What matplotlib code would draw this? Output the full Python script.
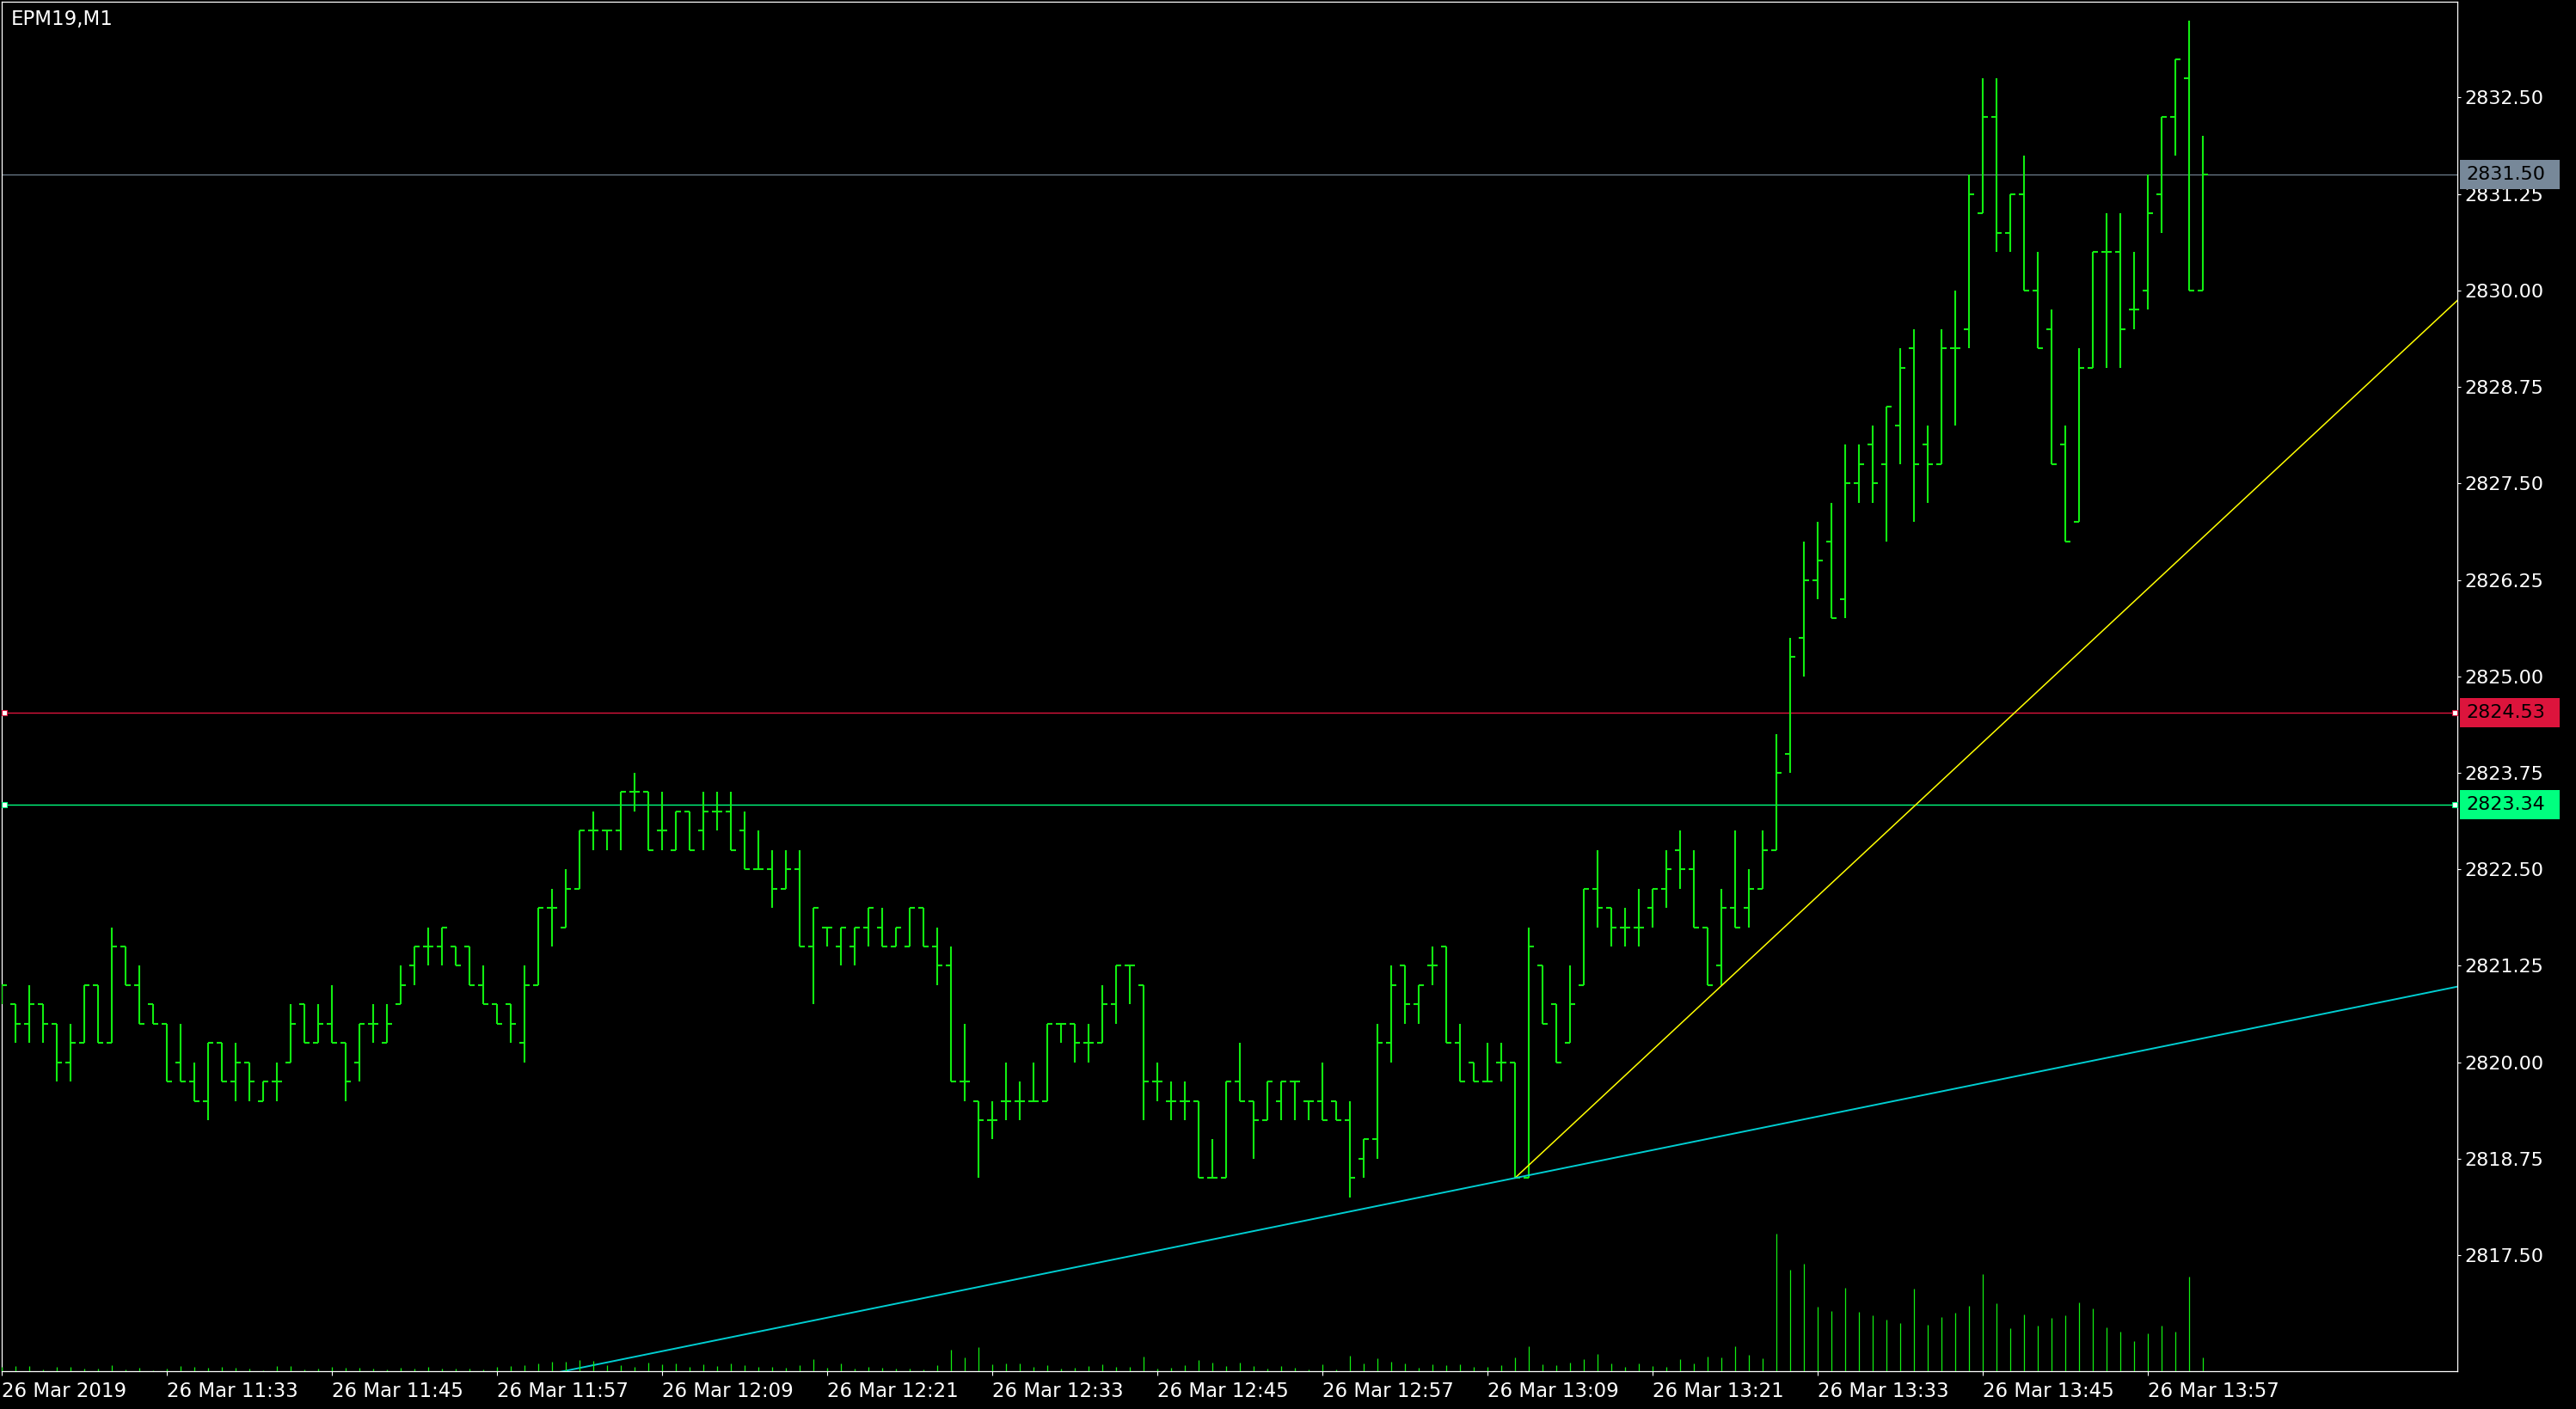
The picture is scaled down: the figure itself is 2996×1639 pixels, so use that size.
import numpy as np
import pandas as pd
import matplotlib
matplotlib.use("Agg")
import matplotlib.pyplot as plt
from matplotlib.collections import LineCollection
from matplotlib.patches import Rectangle

# ---------------- data ----------------
symbol = "EPM19,M1"
start_time = "2019-03-26 11:21"

opens = [2820.75, 2820.75, 2820.50, 2820.75, 2820.50, 2820.00, 2820.25, 2821.00, 2820.25, 2821.50,
         2821.00, 2820.75, 2820.50, 2820.00, 2819.75, 2819.50, 2820.25, 2819.75, 2820.00, 2819.50,
         2819.75, 2820.00, 2820.75, 2820.25, 2820.50, 2820.25, 2820.00, 2820.50, 2820.25, 2820.75,
         2821.25, 2821.50, 2821.50, 2821.50, 2821.50, 2821.00, 2820.75, 2820.75, 2820.25, 2821.00,
         2822.00, 2821.75, 2822.25, 2823.00, 2823.00, 2823.00, 2823.50, 2823.50, 2823.00, 2822.75,
         2823.25, 2823.00, 2823.25, 2823.25, 2823.00, 2822.50, 2822.50, 2822.25, 2822.50, 2821.50,
         2821.75, 2821.50, 2821.50, 2821.75, 2821.75, 2821.50, 2821.50, 2822.00, 2821.50, 2821.25,
         2819.75, 2819.50, 2819.25, 2819.50, 2819.50, 2819.50, 2819.50, 2820.50, 2820.50, 2820.25,
         2820.25, 2820.75, 2821.25, 2821.00, 2819.75, 2819.50, 2819.50, 2819.50, 2818.50, 2818.50,
         2819.75, 2819.50, 2819.25, 2819.50, 2819.75, 2819.50, 2819.50, 2819.50, 2819.25, 2818.75,
         2819.00, 2820.25, 2821.25, 2820.75, 2821.25, 2821.50, 2820.25, 2820.00, 2819.75, 2820.00,
         2820.00, 2818.50, 2821.25, 2820.75, 2820.25, 2821.00, 2822.25, 2822.00, 2821.75, 2821.75,
         2822.00, 2822.25, 2822.75, 2822.50, 2821.75, 2821.25, 2822.00, 2822.00, 2822.25, 2822.75,
         2824.00, 2825.50, 2826.25, 2826.75, 2826.00, 2827.50, 2828.00, 2827.75, 2828.25, 2829.25,
         2828.00, 2827.75, 2829.25, 2829.50, 2831.00, 2832.25, 2830.75, 2831.25, 2830.00, 2829.50,
         2828.00, 2827.00, 2829.00, 2830.50, 2830.50, 2829.75, 2830.00, 2831.25, 2832.25, 2832.75,
         2830.00]
highs = [2821.00, 2820.75, 2821.00, 2820.75, 2820.50, 2820.50, 2821.00, 2821.00, 2821.75, 2821.50,
         2821.25, 2820.75, 2820.50, 2820.50, 2820.00, 2820.25, 2820.25, 2820.25, 2820.00, 2819.75,
         2820.00, 2820.75, 2820.75, 2820.75, 2821.00, 2820.25, 2820.50, 2820.75, 2820.75, 2821.25,
         2821.50, 2821.75, 2821.75, 2821.50, 2821.50, 2821.25, 2820.75, 2820.75, 2821.25, 2822.00,
         2822.25, 2822.50, 2823.00, 2823.25, 2823.00, 2823.50, 2823.75, 2823.50, 2823.50, 2823.25,
         2823.25, 2823.50, 2823.50, 2823.50, 2823.25, 2823.00, 2822.75, 2822.75, 2822.75, 2822.00,
         2821.75, 2821.75, 2821.75, 2822.00, 2822.00, 2821.75, 2822.00, 2822.00, 2821.75, 2821.50,
         2820.50, 2819.50, 2819.50, 2820.00, 2819.75, 2820.00, 2820.50, 2820.50, 2820.50, 2820.50,
         2821.00, 2821.25, 2821.25, 2821.00, 2820.00, 2819.75, 2819.75, 2819.50, 2819.00, 2819.75,
         2820.25, 2819.50, 2819.75, 2819.75, 2819.75, 2819.50, 2820.00, 2819.50, 2819.50, 2819.00,
         2820.50, 2821.25, 2821.25, 2821.00, 2821.50, 2821.50, 2820.50, 2820.00, 2820.25, 2820.25,
         2820.00, 2821.75, 2821.25, 2820.75, 2821.25, 2822.25, 2822.75, 2822.00, 2822.00, 2822.25,
         2822.25, 2822.75, 2823.00, 2822.75, 2821.75, 2822.25, 2823.00, 2822.50, 2823.00, 2824.25,
         2825.50, 2826.75, 2827.00, 2827.25, 2828.00, 2828.00, 2828.25, 2828.50, 2829.25, 2829.50,
         2828.25, 2829.50, 2830.00, 2831.50, 2832.75, 2832.75, 2831.25, 2831.75, 2830.50, 2829.75,
         2828.25, 2829.25, 2830.50, 2831.00, 2831.00, 2830.50, 2831.50, 2832.25, 2833.00, 2833.50,
         2832.00]
lows = [2820.75, 2820.25, 2820.25, 2820.25, 2819.75, 2819.75, 2820.25, 2820.25, 2820.25, 2821.00,
        2820.50, 2820.50, 2819.75, 2819.75, 2819.50, 2819.25, 2819.75, 2819.50, 2819.50, 2819.50,
        2819.50, 2820.00, 2820.25, 2820.25, 2820.25, 2819.50, 2819.75, 2820.25, 2820.25, 2820.75,
        2821.00, 2821.25, 2821.25, 2821.25, 2821.00, 2820.75, 2820.50, 2820.25, 2820.00, 2821.00,
        2821.50, 2821.75, 2822.25, 2822.75, 2822.75, 2822.75, 2823.25, 2822.75, 2822.75, 2822.75,
        2822.75, 2822.75, 2823.00, 2822.75, 2822.50, 2822.50, 2822.00, 2822.25, 2821.50, 2820.75,
        2821.50, 2821.25, 2821.25, 2821.50, 2821.50, 2821.50, 2821.50, 2821.50, 2821.00, 2819.75,
        2819.50, 2818.50, 2819.00, 2819.25, 2819.25, 2819.50, 2819.50, 2820.25, 2820.00, 2820.00,
        2820.25, 2820.50, 2820.75, 2819.25, 2819.50, 2819.25, 2819.25, 2818.50, 2818.50, 2818.50,
        2819.50, 2818.75, 2819.25, 2819.25, 2819.25, 2819.25, 2819.25, 2819.25, 2818.25, 2818.50,
        2818.75, 2820.00, 2820.50, 2820.50, 2821.00, 2820.25, 2819.75, 2819.75, 2819.75, 2819.75,
        2818.50, 2818.50, 2820.50, 2820.00, 2820.25, 2821.00, 2821.75, 2821.50, 2821.50, 2821.50,
        2821.75, 2822.00, 2822.25, 2821.75, 2821.00, 2821.00, 2821.75, 2821.75, 2822.25, 2822.75,
        2823.75, 2825.00, 2826.00, 2825.75, 2825.75, 2827.25, 2827.25, 2826.75, 2827.75, 2827.00,
        2827.25, 2827.75, 2828.25, 2829.25, 2831.00, 2830.50, 2830.50, 2830.00, 2829.25, 2827.75,
        2826.75, 2827.00, 2829.00, 2829.00, 2829.00, 2829.50, 2829.75, 2830.75, 2831.75, 2830.00,
        2830.00]
closes = [2821.00, 2820.50, 2820.75, 2820.50, 2820.00, 2820.25, 2821.00, 2820.25, 2821.50, 2821.00,
          2820.50, 2820.50, 2819.75, 2819.75, 2819.50, 2820.25, 2819.75, 2820.00, 2819.75, 2819.75,
          2819.75, 2820.50, 2820.25, 2820.50, 2820.25, 2819.75, 2820.50, 2820.50, 2820.50, 2821.00,
          2821.50, 2821.50, 2821.75, 2821.25, 2821.00, 2820.75, 2820.50, 2820.50, 2821.00, 2822.00,
          2822.00, 2822.25, 2823.00, 2823.00, 2823.00, 2823.50, 2823.50, 2822.75, 2823.00, 2823.25,
          2822.75, 2823.25, 2823.25, 2822.75, 2822.50, 2822.50, 2822.25, 2822.50, 2821.50, 2822.00,
          2821.75, 2821.75, 2821.75, 2822.00, 2821.50, 2821.75, 2822.00, 2821.50, 2821.25, 2819.75,
          2819.75, 2819.25, 2819.25, 2819.50, 2819.50, 2819.50, 2820.50, 2820.50, 2820.25, 2820.25,
          2820.75, 2821.25, 2821.25, 2819.75, 2819.75, 2819.50, 2819.50, 2818.50, 2818.50, 2819.75,
          2819.50, 2819.25, 2819.75, 2819.75, 2819.75, 2819.50, 2819.25, 2819.25, 2818.50, 2819.00,
          2820.25, 2821.00, 2820.75, 2821.00, 2821.25, 2820.25, 2819.75, 2819.75, 2819.75, 2820.00,
          2818.50, 2821.50, 2820.50, 2820.00, 2820.75, 2822.25, 2822.00, 2821.75, 2821.75, 2821.75,
          2822.25, 2822.50, 2822.50, 2821.75, 2821.00, 2822.00, 2821.75, 2822.25, 2822.75, 2823.75,
          2825.25, 2826.25, 2826.50, 2825.75, 2827.50, 2827.75, 2827.50, 2828.50, 2829.00, 2827.75,
          2827.75, 2829.25, 2829.25, 2831.25, 2832.25, 2830.75, 2831.25, 2830.00, 2829.25, 2827.75,
          2826.75, 2829.00, 2830.50, 2830.50, 2829.50, 2829.75, 2831.00, 2832.25, 2833.00, 2830.00,
          2831.50]
volumes = [5, 6, 6, 2, 5, 5, 3, 3, 7, 2,
           4, 1, 3, 6, 5, 4, 5, 4, 3, 1,
           6, 6, 2, 3, 5, 4, 4, 3, 2, 4,
           3, 5, 3, 3, 3, 2, 5, 6, 7, 9,
           11, 11, 13, 12, 7, 7, 5, 10, 8, 9,
           5, 8, 6, 9, 7, 5, 5, 4, 7, 14,
           4, 9, 3, 5, 4, 3, 3, 2, 7, 25,
           16, 28, 8, 9, 9, 5, 7, 3, 4, 6,
           8, 5, 5, 17, 3, 4, 7, 13, 10, 6,
           10, 6, 3, 6, 4, 2, 8, 2, 18, 9,
           15, 11, 9, 4, 8, 7, 8, 5, 5, 7,
           16, 29, 8, 7, 10, 14, 20, 9, 5, 9,
           6, 5, 14, 9, 17, 16, 29, 19, 15, 160,
           118, 125, 75, 70, 97, 69, 65, 60, 56, 96,
           54, 63, 68, 76, 113, 79, 50, 66, 53, 62,
           65, 80, 73, 51, 46, 35, 44, 53, 46, 110,
           16]

price_ticks = [2817.50, 2818.75, 2820.00, 2821.25, 2822.50, 2823.75, 2825.00,
               2826.25, 2827.50, 2828.75, 2830.00, 2831.25, 2832.50]
red_level = 2824.53
green_level = 2823.34
bid_level = 2831.50
# trend lines: (bar index, price) anchor pairs
yellow_bar = [110, 160]
yellow_price = [2818.50, 2826.80]
cyan_bar = [110, 160]
cyan_price = [2818.50, 2820.31]

# ---------------- figure ----------------
W, H, DPI = 2996, 1639, 100
BG = "black"
BAR = "#11EE11"
fig = plt.figure(figsize=(W / DPI, H / DPI), dpi=DPI, facecolor=BG)
ax = fig.add_axes([2 / W, 44 / H, 2856 / W, 1593 / H], facecolor=BG)

n = len(opens)
idx = np.arange(n)
times = pd.date_range(start_time, periods=n, freq="min")

ymin, ymax = 2815.997, 2833.742
xmin, xmax = 0.0, 178.5
ax.set_xlim(xmin, xmax)
ax.set_ylim(ymin, ymax)

tick_len = 0.375
segs = []
for k in range(n):
    segs.append([(k, lows[k]), (k, highs[k])])
    segs.append([(k - tick_len, opens[k]), (k, opens[k])])
    segs.append([(k, closes[k]), (k + tick_len, closes[k])])
lc = LineCollection(segs, colors=BAR, linewidths=1.5, capstyle="butt", zorder=4)
ax.add_collection(lc)

# horizontal levels
ax.axhline(bid_level, color="#778899", lw=0.8, zorder=2)
ax.axhline(red_level, color="#DC143C", lw=1.0, zorder=3)
ax.axhline(green_level, color="#00FF7F", lw=1.0, zorder=3)
for lvl, col in [(red_level, "#DC143C"), (green_level, "#00FF7F")]:
    ax.plot([xmin + 0.2, xmax - 0.2], [lvl, lvl], ls="none", marker="s", ms=4.5,
            mfc="white", mec=col, mew=0.8, zorder=6, clip_on=False)

# trend lines
ys = (yellow_price[1] - yellow_price[0]) / (yellow_bar[1] - yellow_bar[0])
ax.plot([yellow_bar[0], xmax + 1], [yellow_price[0], yellow_price[0] + ys * (xmax + 1 - yellow_bar[0])],
        color="#FFFF00", lw=1.1, zorder=5)
cs = (cyan_price[1] - cyan_price[0]) / (cyan_bar[1] - cyan_bar[0])
ax.plot([xmin - 1, xmax + 1], [cyan_price[0] + cs * (xmin - 1 - cyan_bar[0]),
                               cyan_price[0] + cs * (xmax + 1 - cyan_bar[0])],
        color="#00CED1", lw=1.4, zorder=5)

# axes styling
for s in ax.spines.values():
    s.set_color("white")
    s.set_linewidth(0.9)
ax.yaxis.tick_right()
ax.set_yticks(price_ticks)
ax.set_yticklabels([f"{p:.2f}" for p in price_ticks])
ax.tick_params(axis="y", colors="white", length=3, width=0.8, pad=3, labelsize=16)

xt = list(range(0, n, 12))
xl = []
for k in xt:
    t = times[k]
    xl.append(t.strftime("%d %b %Y") if k == 0 else t.strftime("%d %b %H:%M"))
ax.set_xticks(xt)
ax.set_xticklabels(xl)
ax.tick_params(axis="x", colors="white", length=3.6, width=0.8, pad=5, labelsize=16.5)
for lab in ax.get_xticklabels():
    lab.set_ha("left")

# price labels on the axis
px_per_unit = 1593 / (ymax - ymin)
box_h = 34 / px_per_unit
for lvl, col in [(bid_level, "#778899"), (red_level, "#DC143C"), (green_level, "#00FF7F")]:
    ax.add_patch(Rectangle((1 + 3 / 2856, lvl - box_h / 2), 116 / 2856, box_h,
                           transform=ax.get_yaxis_transform(), facecolor=col,
                           edgecolor="none", clip_on=False, zorder=10))
    ax.text(1 + 10 / 2856, lvl, f"{lvl:.2f}", transform=ax.get_yaxis_transform(),
            ha="left", va="center", color="black", fontsize=16, clip_on=False, zorder=11)

# volumes
axv = fig.add_axes(ax.get_position(), sharex=ax)
axv.set_facecolor("none")
axv.axis("off")
axv.set_ylim(0, max(volumes) * 9.96)
axv.vlines(idx, 0, volumes, colors=BAR, linewidth=0.9)
axv.set_xlim(xmin, xmax)

fig.text(13 / W, 1 - 22 / H, symbol, color="white", fontsize=16.5, ha="left", va="center")

fig.savefig("out.png", dpi=DPI, facecolor=BG)
